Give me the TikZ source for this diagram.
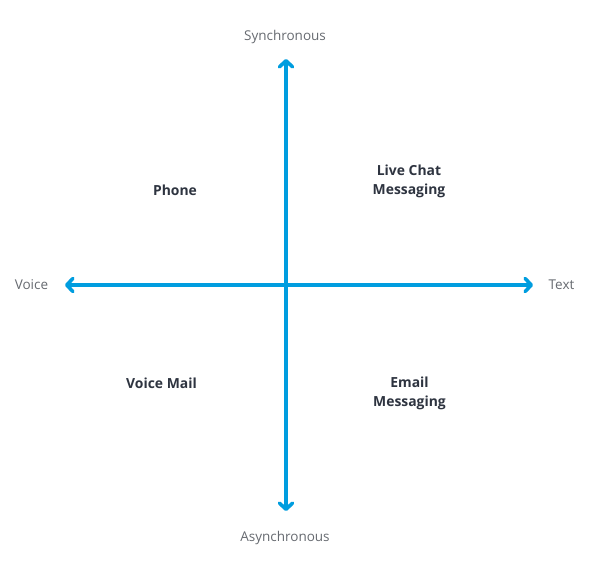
\documentclass[tikz,border=0pt]{standalone}
\usepackage{fontspec}
\setmainfont{Open Sans}
\usetikzlibrary{arrows.meta}
\definecolor{axisblue}{HTML}{009DDF}
\definecolor{lbl}{HTML}{666A70}
\definecolor{dark}{HTML}{2E3440}
\tikzset{
  axis/.style={draw=axisblue, line width=3.6pt, line cap=round,
    {Straight Barb[length=6pt,width=13pt,line cap=round,line join=round]}-{Straight Barb[length=6pt,width=13pt,line cap=round,line join=round]}},
  axlabel/.style={font=\fontsize{13.5}{15}\selectfont, text=lbl, inner sep=0pt},
  quad/.style={font=\fontsize{13.9}{19}\selectfont\bfseries, text=dark, align=center, inner sep=0pt}
}
\begin{document}
\begin{tikzpicture}[x=1pt,y=-1pt]
\useasboundingbox (0,0) rectangle (590,570);
\fill[white] (0,0) rectangle (590,570);
\coordinate (top) at (286,59);
\coordinate (bot) at (286,511);
\coordinate (left) at (65,285);
\coordinate (right) at (533,285);
\draw[axis] (bot) -- (top);
\draw[axis] (left) -- (right);
\node[axlabel] (syn) at (285,36.5) {Synchronous};
\node[axlabel] (asyn) at (285,537.5) {Asynchronous};
\node[axlabel] (voice) at (31.5,284.5) {Voice};
\node[axlabel] (text) at (561.5,284.5) {Text};
\node[quad] (phone) at (175,190.5) {Phone};
\node[quad] (live) at (409,181) {Live Chat\\Messaging};
\node[quad] (vm) at (161.5,383.5) {Voice Mail};
\node[quad] (email) at (409.5,393) {Email\\Messaging};
\end{tikzpicture}
\end{document}
